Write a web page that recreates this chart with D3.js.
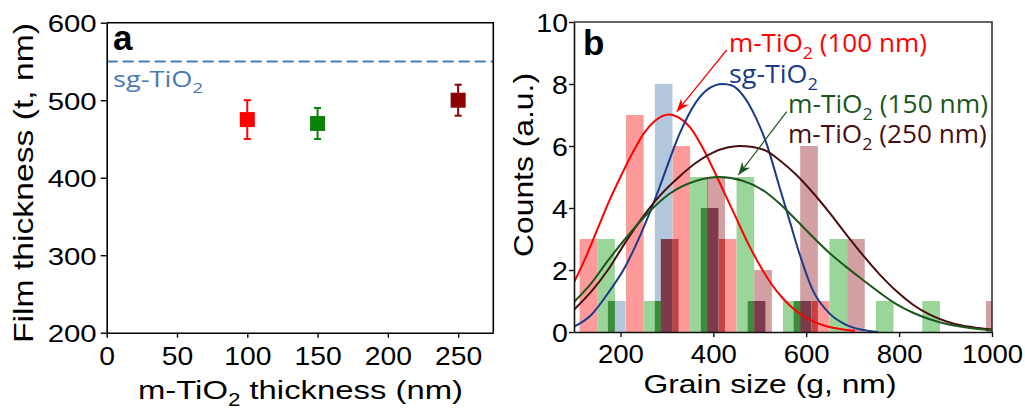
<!DOCTYPE html>
<html><head><meta charset="utf-8">
<script src="https://cdn.jsdelivr.net/npm/d3@7"></script>
<style>body{margin:0;background:#fff}svg{display:block}</style>
</head><body>
<svg id="c" width="1025" height="410"></svg>
<script>
// ---------- Panel a data ----------
const aThickness = [100, 150, 250];
const aFilm = [475, 470, 500];
const aErrLow = [450, 450, 480];
const aErrHigh = [500, 490, 520];
const aSgFilm = 550;
const aXTicks = [0, 50, 100, 150, 200, 250];
const aYTicks = [200, 300, 400, 500, 600];

// ---------- Panel b data ----------
const bXTicks = [200, 400, 600, 800, 1000];
const bYTicks = [0, 2, 4, 6, 8, 10];
const binWidth = 38;
const m100Left = [112, 212, 312, 412, 612];
const m100Count = [3, 7, 6, 3, 1];
const sgLeft = [173, 274, 373, 474, 573];
const sgCount = [1, 8, 4, 1, 1];
const m150Left = [150, 250, 350, 450, 550, 650, 750, 850];
const m150Count = [3, 1, 5, 5, 1, 3, 1, 1];
const m250Left = [287, 387, 488, 587, 688, 987];
const m250Count = [3, 5, 2, 6, 3, 1];

const m100FitX = [100,125,150,175,200,225,250,275,305,325,350,375,400,425,450,475,500,525,550,575,600,625,650,675,705];
const m100FitY = [1.6,2.4,3.3,4.2,5.0,5.75,6.4,6.82,7.02,6.92,6.6,6.0,5.25,4.45,3.65,2.85,2.15,1.55,1.08,0.72,0.46,0.28,0.16,0.09,0.04];
const sgFitX = [100,137,173,210,245,275,291,326,362,390,420,440,463,492,514,542,564,585,614,650,686,720,755];
const sgFitY = [0.17,0.55,1.25,2.1,3.2,4.3,4.95,6.35,7.4,7.85,8.0,7.95,7.65,6.9,6.1,4.7,3.6,2.55,1.35,0.6,0.23,0.07,0.0];
const m150FitX = [100,137,173,210,262,305,362,413,463,514,542,578,614,650,686,722,758,794,830,866,902,938,970,1000];
const m150FitY = [0.97,1.57,2.3,3.0,3.88,4.45,4.87,5.0,4.88,4.5,4.15,3.62,3.07,2.55,2.1,1.68,1.27,0.9,0.62,0.41,0.26,0.16,0.1,0.06];
const m250FitX = [100,137,173,209,245,285,326,362,398,430,456,485,514,542,578,614,650,686,722,758,794,830,866,902,938,970,1000];
const m250FitY = [0.72,1.3,2.0,2.85,3.65,4.4,5.0,5.45,5.78,5.95,6.0,5.97,5.84,5.55,5.08,4.5,3.85,3.15,2.48,1.86,1.32,0.88,0.56,0.34,0.2,0.13,0.08];

// ---------- styles ----------
const AX_FONT = "'Liberation Sans', Arial, sans-serif";
const LBL_FONT = "'Open Sans', 'Noto Sans', sans-serif";
const aMarkColors = ["#ff0000", "#0a820a", "#8b0000"];
const sgA = "#4a7bb0";
const barFill = ["#ff9a9a", "#b3c8dc", "#9ad69a", "#d2a0a2"];
const lineCol = ["#ff0000", "#1a3a8a", "#1b561b", "#4a0e0e"];
const pairCol = {"0-1":"#a070a0","0-2":"#a0a040","0-3":"#c84040","1-2":"#3c8c3c","1-3":"#7d3a4c","2-3":"#5a6a3a"};

const svg = d3.select("#c");

function stretch(sel, s) {
  sel.each(function() {
    const x = +this.getAttribute("x") || 0;
    d3.select(this).attr("transform", `translate(${x},0) scale(${s},1) translate(${-x},0)`);
  });
}
function richText(g, x, y, parts, o) {
  const t = g.append("text").attr("x", x).attr("y", y)
    .attr("font-family", o.font).attr("font-size", o.size).attr("fill", o.color)
    .attr("font-weight", o.weight || "normal");
  let prevSub = false;
  parts.forEach(p => {
    const ts = t.append("tspan").text(p[0]);
    if (p[1]) { ts.attr("font-size", o.size * 0.68).attr("dy", o.size * 0.27); }
    else if (prevSub) { ts.attr("dy", -o.size * 0.27); }
    prevSub = !!p[1];
  });
  if (o.width) {
    const w = t.node().getComputedTextLength();
    const s = o.width / w;
    t.attr("transform", `translate(${x},0) scale(${s},1) translate(${-x},0)`);
  }
  return t;
}

// ================= Panel a =================
const aL = 106.7, aR = 493.3, aT = 22.7, aB = 332.7;
const ax = d3.scaleLinear().domain([0, 275]).range([aL, aR]);
const ay = d3.scaleLinear().domain([200, 600]).range([aB, aT]);
const ga = svg.append("g");

ga.append("line").attr("x1", aL).attr("x2", aR).attr("y1", ay(aSgFilm)).attr("y2", ay(aSgFilm))
  .attr("stroke", sgA).attr("stroke-width", 2).attr("stroke-dasharray", "11,5");

aThickness.forEach((t, i) => {
  const c = aMarkColors[i];
  ga.append("line").attr("x1", ax(t)).attr("x2", ax(t)).attr("y1", ay(aErrLow[i])).attr("y2", ay(aErrHigh[i]))
    .attr("stroke", c).attr("stroke-width", 2);
  [aErrLow[i], aErrHigh[i]].forEach(v => ga.append("line").attr("x1", ax(t) - 3.5).attr("x2", ax(t) + 3.5)
    .attr("y1", ay(v)).attr("y2", ay(v)).attr("stroke", c).attr("stroke-width", 2));
  ga.append("rect").attr("x", ax(t) - 7.5).attr("y", ay(aFilm[i]) - 7.5).attr("width", 15).attr("height", 15).attr("fill", c);
});

const axA = ga.append("g").attr("transform", `translate(0,${aB})`)
  .call(d3.axisBottom(ax).tickValues(aXTicks).tickFormat(d3.format("d")).tickSize(5).tickSizeOuter(0));
const ayA = ga.append("g").attr("transform", `translate(${aL},0)`)
  .call(d3.axisLeft(ay).tickValues(aYTicks).tickFormat(d3.format("d")).tickSize(6).tickSizeOuter(0));
[axA, ayA].forEach(g => {
  g.select(".domain").attr("stroke", "#000").attr("stroke-width", 1.6);
  g.selectAll(".tick line").attr("stroke", "#000").attr("stroke-width", 1.4);
  g.selectAll("text").attr("font-family", AX_FONT).attr("fill", "#000");
});
axA.selectAll("text").attr("font-size", 25.5).attr("y", 32.3).attr("dy", 0);
stretch(axA.selectAll("text"), 1.11);
ayA.selectAll("text").attr("font-size", 24.5).attr("x", -10).attr("dy", "0.36em");
stretch(ayA.selectAll("text"), 1.2);
ga.append("path").attr("d", `M${aL},${aT}H${aR}V${aB}`).attr("fill", "none").attr("stroke", "#000").attr("stroke-width", 1.6);

ga.append("text").attr("x", 113).attr("y", 50).text("a").attr("font-family", AX_FONT)
  .attr("font-weight", "bold").attr("font-size", 35).attr("fill", "#000");
richText(ga, 113, 87.3, [["sg-TiO"], ["2", true]], {font: LBL_FONT, size: 22, color: sgA, width: 90});

richText(ga, 138, 399, [["m-TiO"], ["2", true], [" thickness (nm)"]], {font: AX_FONT, size: 26, color: "#000", width: 325});
ga.append("text").attr("transform", "translate(33,183) rotate(-90)").attr("text-anchor", "middle")
  .attr("font-family", AX_FONT).attr("font-size", 28).attr("textLength", 320).attr("lengthAdjust", "spacingAndGlyphs")
  .text("Film thickness (t, nm)");

// ================= Panel b =================
const bL = 574, bR = 992, bT = 22, bB = 332;
const bx = d3.scaleLinear().domain([100, 1000]).range([bL, bR]);
const by = d3.scaleLinear().domain([0, 10]).range([bB, bT]);
const gb = svg.append("g");
const defs = svg.append("defs");
defs.append("clipPath").attr("id", "clipb").append("rect")
  .attr("x", bL).attr("y", bT).attr("width", bR - bL).attr("height", bB - bT);
const plot = gb.append("g").attr("clip-path", "url(#clipb)");

const series = [
  {left: m100Left, count: m100Count, fx: m100FitX, fy: m100FitY},
  {left: sgLeft, count: sgCount, fx: sgFitX, fy: sgFitY},
  {left: m150Left, count: m150Count, fx: m150FitX, fy: m150FitY},
  {left: m250Left, count: m250Count, fx: m250FitX, fy: m250FitY}
];
const bars = series.map((s, si) => s.left.map((l, i) => ({si, x0: l, x1: l + binWidth, c: s.count[i]})));
bars.forEach((arr, si) => {
  plot.selectAll(null).data(arr).enter().append("rect")
    .attr("x", d => bx(d.x0)).attr("width", d => bx(d.x1) - bx(d.x0))
    .attr("y", d => by(d.c)).attr("height", d => by(0) - by(d.c))
    .attr("fill", barFill[si]);
});
for (let i = 0; i < bars.length; i++) for (let j = i + 1; j < bars.length; j++) {
  bars[i].forEach(a => bars[j].forEach(b => {
    const x0 = Math.max(a.x0, b.x0), x1 = Math.min(a.x1, b.x1);
    if (x1 - x0 > 0.5) {
      const c = Math.min(a.c, b.c);
      plot.append("rect").attr("x", bx(x0)).attr("width", bx(x1) - bx(x0))
        .attr("y", by(c)).attr("height", by(0) - by(c)).attr("fill", pairCol[i + "-" + j]);
    }
  }));
}
const line = d3.line().x(d => bx(d[0])).y(d => by(d[1])).curve(d3.curveMonotoneX);
[0, 1, 3, 2].forEach(si => {
  const s = series[si];
  plot.append("path").attr("d", line(s.fx.map((x, i) => [x, s.fy[i]])))
    .attr("fill", "none").attr("stroke", lineCol[si]).attr("stroke-width", 2);
});

const axB = gb.append("g").attr("transform", `translate(0,${bB})`)
  .call(d3.axisBottom(bx).tickValues(bXTicks).tickFormat(d3.format("d")).tickSize(5).tickSizeOuter(0));
const ayB = gb.append("g").attr("transform", `translate(${bL},0)`)
  .call(d3.axisLeft(by).tickValues(bYTicks).tickFormat(d3.format("d")).tickSize(5).tickSizeOuter(0));
[axB, ayB].forEach(g => {
  g.select(".domain").attr("stroke", "#111").attr("stroke-width", 1.6);
  g.selectAll(".tick line").attr("stroke", "#111").attr("stroke-width", 1.4);
  g.selectAll("text").attr("font-family", AX_FONT).attr("fill", "#000").attr("font-size", 25.5);
});
axB.selectAll("text").attr("y", 31.3).attr("dy", 0);
stretch(axB.selectAll("text"), 1.08);
ayB.selectAll("text").attr("x", -6).attr("dy", "0.36em");
stretch(ayB.selectAll("text"), 1.12);
gb.append("path").attr("d", `M${bL},${bT}H${bR}V${bB}`).attr("fill", "none").attr("stroke", "#333").attr("stroke-width", 1.6);

gb.append("text").attr("x", 583).attr("y", 55).text("b").attr("font-family", AX_FONT)
  .attr("font-weight", "bold").attr("font-size", 35).attr("fill", "#000");

richText(gb, 729, 52, [["m-TiO"], ["2", true], [" (100 nm)"]], {font: LBL_FONT, size: 25, color: lineCol[0], width: 198});
richText(gb, 729, 83.3, [["sg-TiO"], ["2", true]], {font: LBL_FONT, size: 25, color: lineCol[1], width: 89});
richText(gb, 788, 113.3, [["m-TiO"], ["2", true], [" (150 nm)"]], {font: LBL_FONT, size: 25, color: lineCol[2], width: 200});
richText(gb, 788, 143.3, [["m-TiO"], ["2", true], [" (250 nm)"]], {font: LBL_FONT, size: 25, color: lineCol[3], width: 199});

[["arrR", lineCol[0]], ["arrG", lineCol[2]]].forEach(([id, col]) => {
  defs.append("marker").attr("id", id).attr("markerUnits", "userSpaceOnUse")
    .attr("viewBox", "-14 -6 16 12").attr("refX", 0).attr("refY", 0)
    .attr("markerWidth", 16).attr("markerHeight", 12).attr("orient", "auto")
    .append("path").attr("d", "M0,0L-13,-5L-9,0L-13,5Z").attr("fill", col);
});
gb.append("line").attr("x1", 726.7).attr("y1", 50).attr("x2", 676.7).attr("y2", 111.7)
  .attr("stroke", lineCol[0]).attr("stroke-width", 1.2).attr("marker-end", "url(#arrR)");
gb.append("line").attr("x1", 786.7).attr("y1", 111.7).attr("x2", 738.3).attr("y2", 175)
  .attr("stroke", lineCol[2]).attr("stroke-width", 1.2).attr("marker-end", "url(#arrG)");

gb.append("text").attr("x", 770).attr("y", 393.3).attr("text-anchor", "middle")
  .attr("font-family", AX_FONT).attr("font-size", 25.5).attr("textLength", 253).attr("lengthAdjust", "spacingAndGlyphs")
  .text("Grain size (g, nm)");
gb.append("text").attr("transform", "translate(533,165) rotate(-90)").attr("text-anchor", "middle")
  .attr("font-family", AX_FONT).attr("font-size", 28).attr("textLength", 184).attr("lengthAdjust", "spacingAndGlyphs")
  .text("Counts (a.u.)");
</script>
</body></html>
